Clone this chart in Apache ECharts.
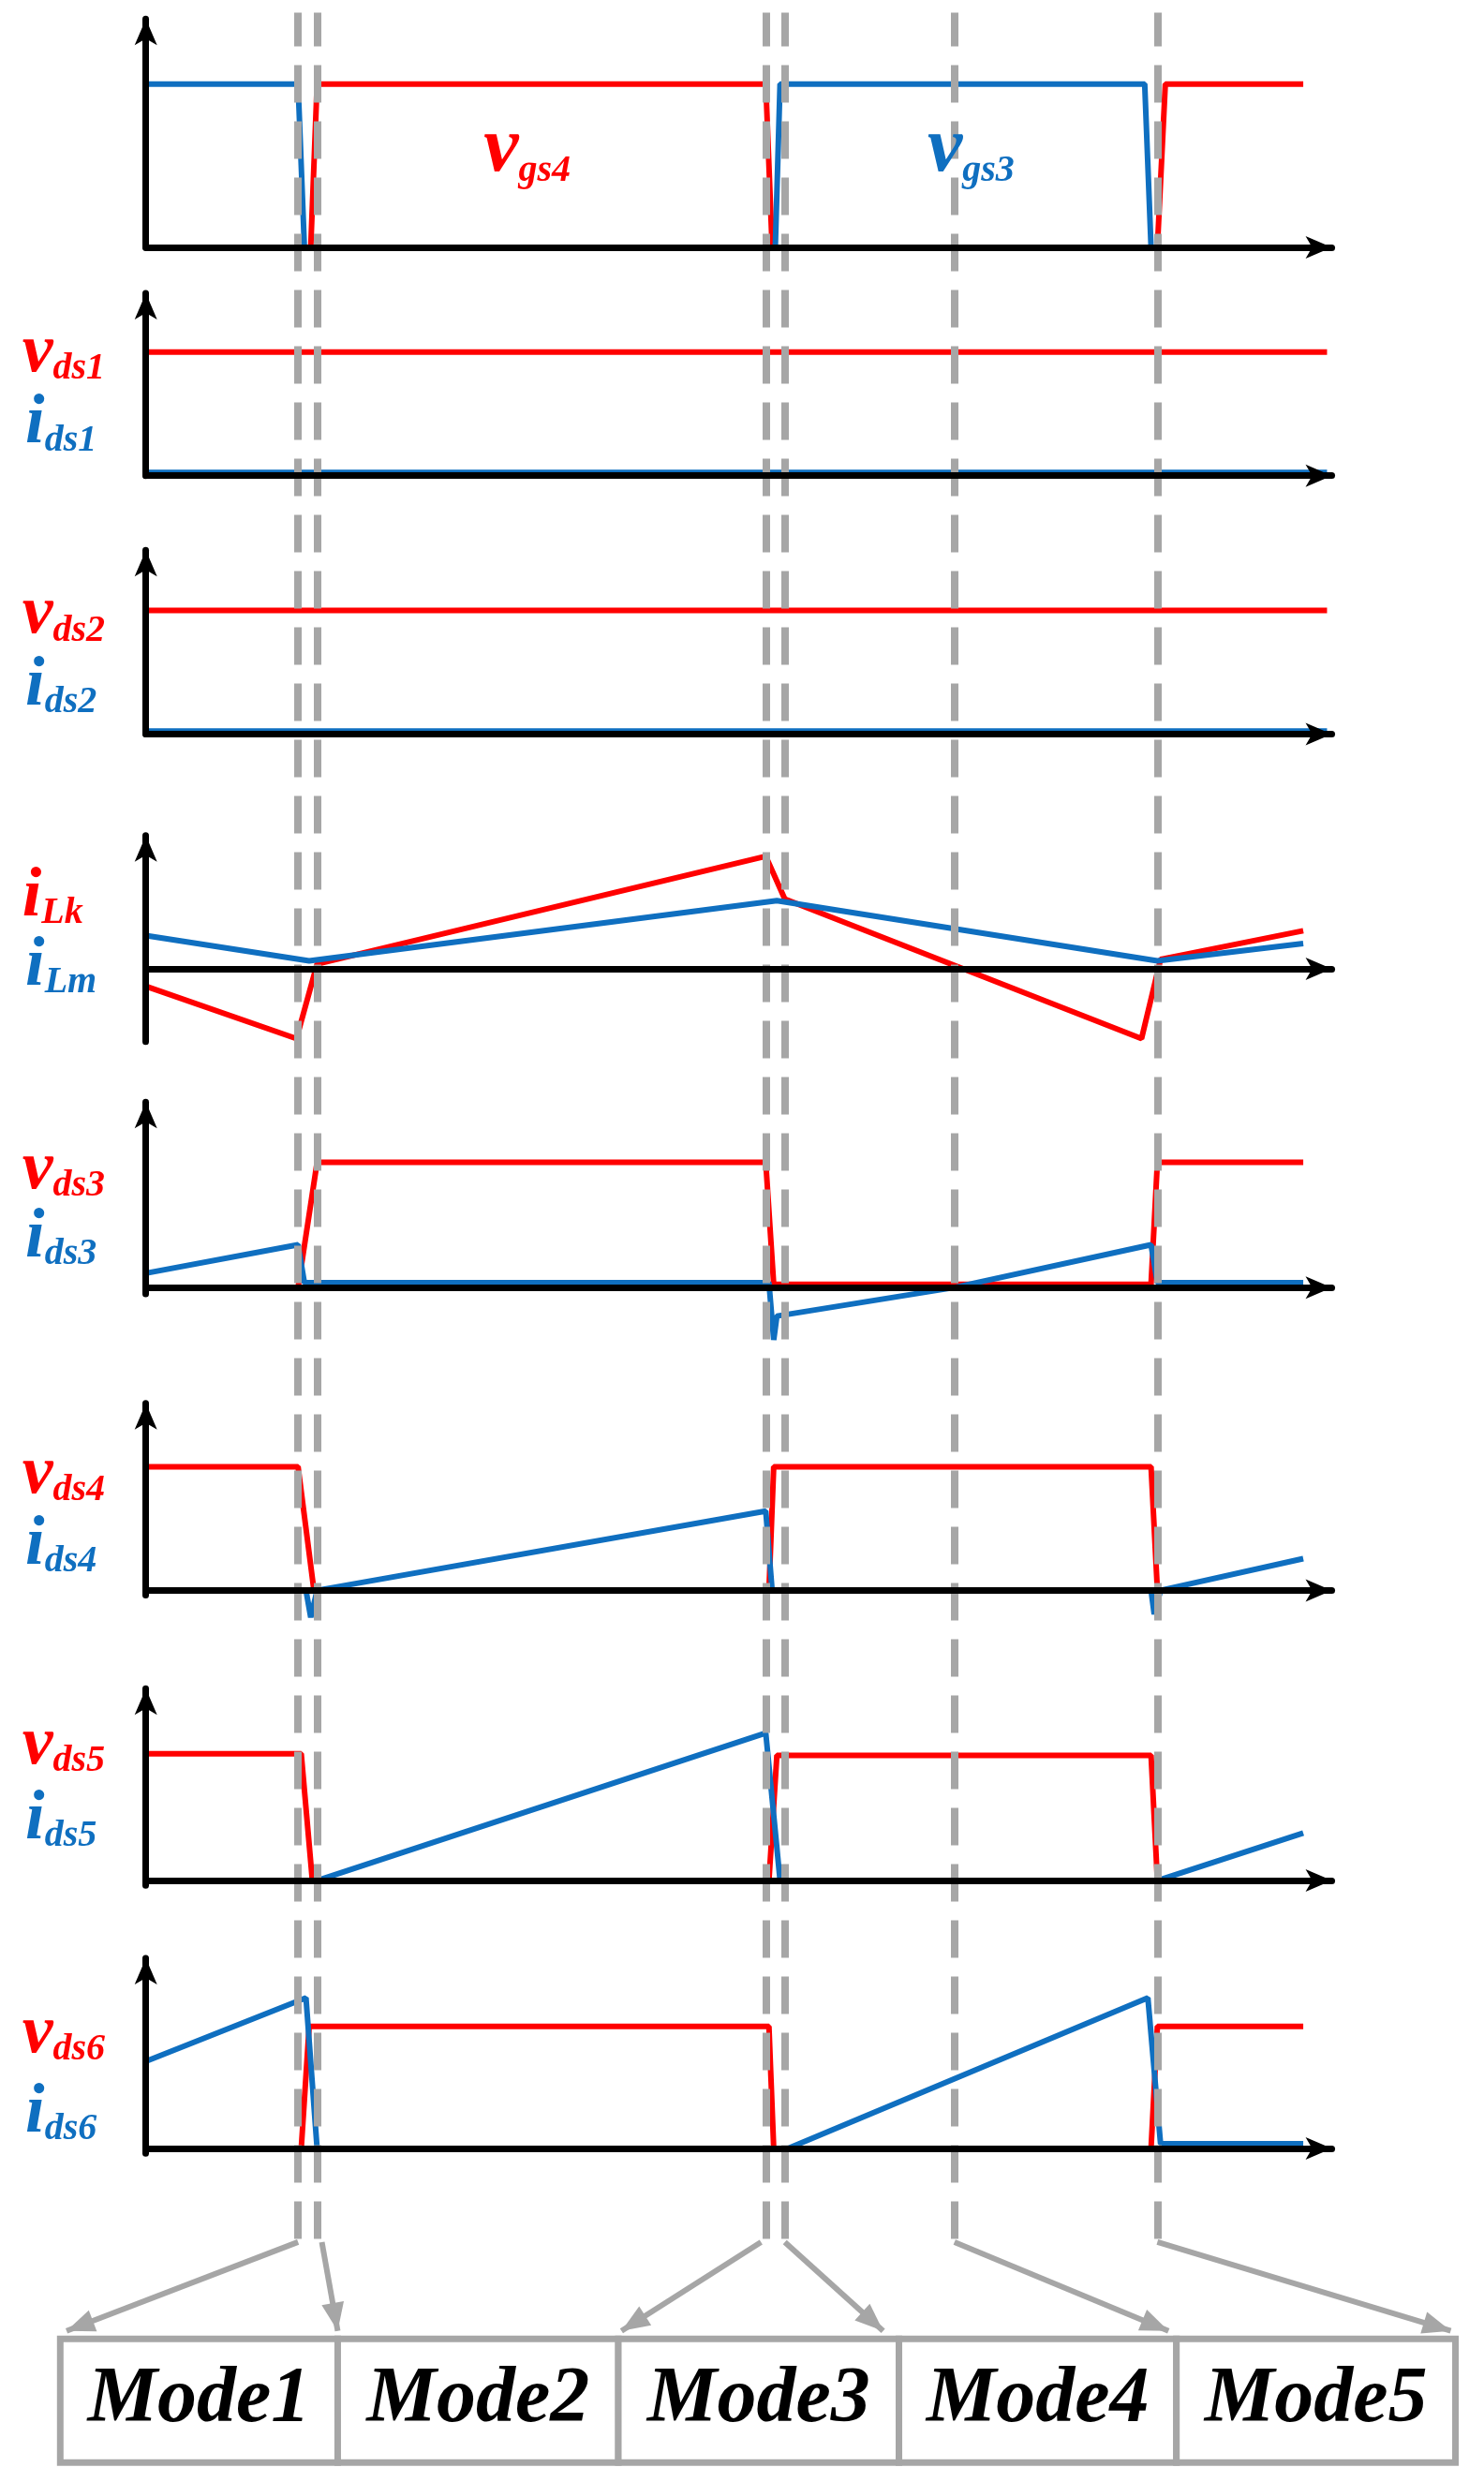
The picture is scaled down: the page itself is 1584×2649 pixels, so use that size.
<!DOCTYPE html>
<html><head><meta charset="utf-8">
<script src="https://cdn.jsdelivr.net/npm/echarts@6/dist/echarts.min.js"></script>
<style>html,body{margin:0;padding:0;background:#fff}#c{width:1584px;height:2649px}</style>
</head><body><div id="c"></div>
<script>
const S = 1584/936;
const RED = '#ff0000', BLUE = '#0f6fc0', GRAY = '#a6a6a6';
const FF = '"Liberation Serif", "Times New Roman", serif';
const modeTimes = [96, 108, 391, 403, 510, 638];
const modeNames = ['Mode1','Mode2','Mode3','Mode4','Mode5'];
const panels = [
  [12,156,156],[185,300,300],[347,463,463],[527,611,657],
  [695,812,816],[885,1003,1006],[1065,1186,1189],[1235,1355,1358]
];
const red1 = [[0,0],[104,0],[108,103],[391,103],[395,0],[638,0],[643,103],[730,103]];
const blue1 = [[0,103],[96,103],[100,0],[397,0],[400,103],[630,103],[634,0]];
const red2 = [[0,78],[745,78]];
const blue2 = [[0,2],[745,2]];
const red3 = [[0,78],[745,78]];
const blue3 = [[0,2],[745,2]];
const red4 = [[0,-11],[95,-44],[108,3],[391,71],[403,44],[628,-44],[640,6],[730,24]];
const blue4 = [[0,21],[103,5],[398,43],[638,5],[730,16]];
const red5 = [[0,0],[96,0],[108,79],[391,79],[396,2],[634,2],[638,79],[730,79]];
const blue5 = [[0,9],[96,27],[100,3],[393,3],[396,-33],[398,-18],[510,0],[634,27],[638,3],[730,3]];
const red6 = [[0,78],[96,78],[106,0],[393,0],[396,78],[634,78],[638,0],[730,0]];
const blue6 = [[101,0],[104,-17],[108,0],[391,50],[395,0],[634,0],[636,-15],[640,0],[730,20]];
const red7 = [[0,80],[98,80],[105,0],[393,0],[398,79],[634,79],[638,0],[730,0]];
const blue7 = [[108,0],[391,93],[400,0],[638,0],[730,30]];
const red8 = [[0,0],[98,0],[103,77],[393,77],[396,0],[634,0],[638,77],[730,77]];
const blue8 = [[0,55],[101,95],[108,0],[405,0],[632,95],[640,3],[730,3]];
const reds = [red1,red2,red3,red4,red5,red6,red7,red8];
const blues = [blue1,blue2,blue3,blue4,blue5,blue6,blue7,blue8];
const labels = [
  null,
  ['v','ds1','i','ds1',225,270],
  ['v','ds2','i','ds2',390,435],
  ['i','Lk','i','Lm',568,612],
  ['v','ds3','i','ds3',740,783],
  ['v','ds4','i','ds4',932,977],
  ['v','ds5','i','ds5',1103,1150],
  ['v','ds6','i','ds6',1285,1335]
];

const grids=[], xAxes=[], yAxes=[], series=[];
const axisStyle = {show:true, onZero:true, symbol:['none','arrow'], symbolSize:[18,28], lineStyle:{color:'#000',width:7}};
panels.forEach((p,i)=>{
  grids.push({left:92*S, width:748*S, top:p[0]*S, height:(p[2]-p[0])*S});
  xAxes.push({type:'value', gridIndex:i, min:0, max:748, z:10, axisLine:axisStyle, axisTick:{show:false}, axisLabel:{show:false}, splitLine:{show:false}});
  yAxes.push({type:'value', gridIndex:i, min:-(p[2]-p[1]), max:p[1]-p[0], z:10, axisLine:axisStyle, axisTick:{show:false}, axisLabel:{show:false}, splitLine:{show:false}});
  [[reds[i],RED],[blues[i],BLUE]].forEach(([d,c])=>{
    series.push({type:'line', xAxisIndex:i, yAxisIndex:i, data:d, symbol:'none', clip:false,
      lineStyle:{color:c,width:6}, z:3});
  });
});
grids.push({left:92*S, width:748*S, top:8*S, height:(1412-8)*S});
xAxes.push({type:'value', gridIndex:8, min:0, max:748, show:false});
yAxes.push({type:'value', gridIndex:8, min:0, max:1, show:false});
series.push({type:'line', xAxisIndex:8, yAxisIndex:8, data:[], z:1,
  markLine:{silent:true, symbol:'none', label:{show:false},
    lineStyle:{color:GRAY, width:8, type:[40,20], opacity:1},
    data: modeTimes.map(t=>({xAxis:t}))}});

function rich(c, big, small, pad){
  return {a:{fontFamily:FF,fontStyle:'italic',fontWeight:'bold',fontSize:big,fill:c,color:c},
          b:{fontFamily:FF,fontStyle:'italic',fontWeight:'bold',fontSize:small,fill:c,color:c,verticalAlign:'bottom',padding:[pad,0,0,0]}};
}
const graphic=[];
labels.forEach(l=>{
  if(!l) return;
  graphic.push({type:'text', z:20, left:14*S, top:(l[4]-24)*S, style:{text:'{a|'+l[0]+'}{b|'+l[1]+'}', fill:RED, rich:rich(RED,74,40,22)}});
  graphic.push({type:'text', z:20, left:16*S, top:(l[5]-24)*S, style:{text:'{a|'+l[2]+'}{b|'+l[3]+'}', fill:BLUE, rich:rich(BLUE,74,40,22)}});
});
[['gs4',305,RED],['gs3',585,BLUE]].forEach(([s,x,c])=>{
  graphic.push({type:'text', z:20, left:x*S, top:70*S, style:{text:'{a|v}{b|'+s+'}', fill:c, rich:rich(c,84,40,30)}});
});
const boxX = [38,213,390,567,742,918];
for(let i=0;i<5;i++){
  graphic.push({type:'rect', shape:{x:boxX[i]*S, y:1475*S, width:(boxX[i+1]-boxX[i])*S, height:78*S},
    style:{fill:'#fff', stroke:GRAY, lineWidth:7}});
  graphic.push({type:'text', x:(boxX[i]+boxX[i+1])/2*S, y:1514*S, style:{text:modeNames[i],
    fontFamily:FF, fontStyle:'italic', fontWeight:'bold', fontSize:84, fill:'#000', align:'center', verticalAlign:'middle'}});
}
const arrows = [[188,42],[203,213],[480,392],[495,557],[602,737],[730,915]];
arrows.forEach(([x0,x1])=>{
  const ax=x0*S, ay=1414*S, bx=x1*S, by=1470*S;
  graphic.push({type:'line', shape:{x1:ax,y1:ay,x2:bx,y2:by}, style:{stroke:GRAY,lineWidth:6}});
  const ang=Math.atan2(by-ay,bx-ax), L=30, W=12;
  const px=bx-L*Math.cos(ang), py=by-L*Math.sin(ang);
  graphic.push({type:'polygon', shape:{points:[[bx,by],[px+W*Math.sin(ang),py-W*Math.cos(ang)],[px-W*Math.sin(ang),py+W*Math.cos(ang)]]}, style:{fill:GRAY}});
});

const chart = echarts.init(document.getElementById('c'));
chart.setOption({animation:false, backgroundColor:'#fff', grid:grids, xAxis:xAxes, yAxis:yAxes, series, graphic});
</script></body></html>
